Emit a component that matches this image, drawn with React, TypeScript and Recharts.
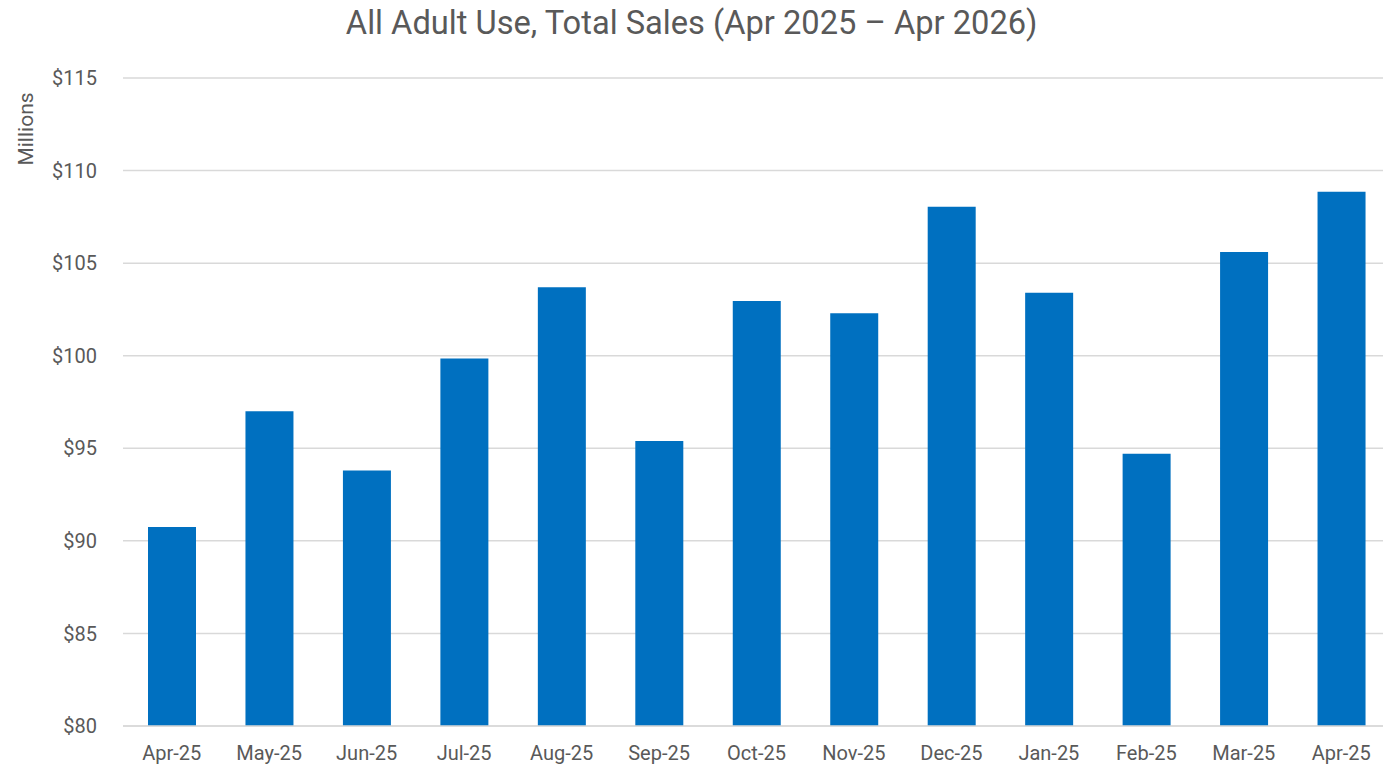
import { Bar, BarChart, CartesianGrid, XAxis, YAxis } from "recharts";

// Monthly adult-use sales, millions of dollars
const months = [
  "Apr-25", "May-25", "Jun-25", "Jul-25", "Aug-25", "Sep-25", "Oct-25",
  "Nov-25", "Dec-25", "Jan-25", "Feb-25", "Mar-25", "Apr-25",
];
const sales = [
  90.75, 97.0, 93.8, 99.85, 103.7, 95.4, 102.95, 102.3, 108.05, 103.4, 94.7,
  105.6, 108.85,
];
const yTicks = [80, 85, 90, 95, 100, 105, 110, 115];

const data = months.map((m, i) => ({ key: `${m}-${i}`, month: m, value: sales[i] }));

const TEXT = "#595959";
const GRID = "#d9d9d9";
const BLUE = "#0070C0";
const FONT = "'Roboto', 'Liberation Sans', sans-serif";

export default function App() {
  return (
    <div
      style={{
        position: "absolute",
        left: 0,
        top: 0,
        width: 1383,
        height: 771,
        overflow: "hidden",
        background: "#fff",
        fontFamily: FONT,
      }}
    >
      <div
        style={{
          position: "absolute",
          top: 2,
          left: 0,
          width: 1383,
          textAlign: "center",
          fontSize: 34,
          color: TEXT,
          whiteSpace: "nowrap",
          transform: "scaleX(0.96)",
          transformOrigin: "696px 0",
        }}
      >
        All Adult Use, Total Sales (Apr 2025 – Apr 2026)
      </div>
      <div
        style={{
          position: "absolute",
          left: 26,
          top: 129,
          transform: "translate(-50%, -50%) rotate(-90deg)",
          fontSize: 21,
          color: TEXT,
          whiteSpace: "nowrap",
        }}
      >
        Millions
      </div>
      <BarChart
        width={1400}
        height={771}
        data={data}
        margin={{ top: 78, right: 10, left: 0, bottom: 0 }}
        style={{ position: "absolute", left: 0, top: 0 }}
      >
        <CartesianGrid vertical={false} stroke={GRID} strokeWidth={1.5} />
        <XAxis
          dataKey="key"
          tickFormatter={(_v: string, i: number) => months[i]}
          axisLine={{ stroke: GRID, strokeWidth: 1.5 }}
          tickLine={false}
          tickMargin={14}
          height={45}
          interval={0}
          tick={{ fontSize: 20, fill: TEXT, fontFamily: FONT }}
        />
        <YAxis
          domain={[80, 115]}
          ticks={yTicks}
          allowDataOverflow
          width={123}
          axisLine={false}
          tickLine={false}
          tickMargin={20}
          tickFormatter={(v: number) => `$${v}`}
          tick={{ fontSize: 20, fill: TEXT, fontFamily: FONT }}
        />
        <Bar dataKey="value" fill={BLUE} barSize={48} isAnimationActive={false} />
      </BarChart>
    </div>
  );
}
